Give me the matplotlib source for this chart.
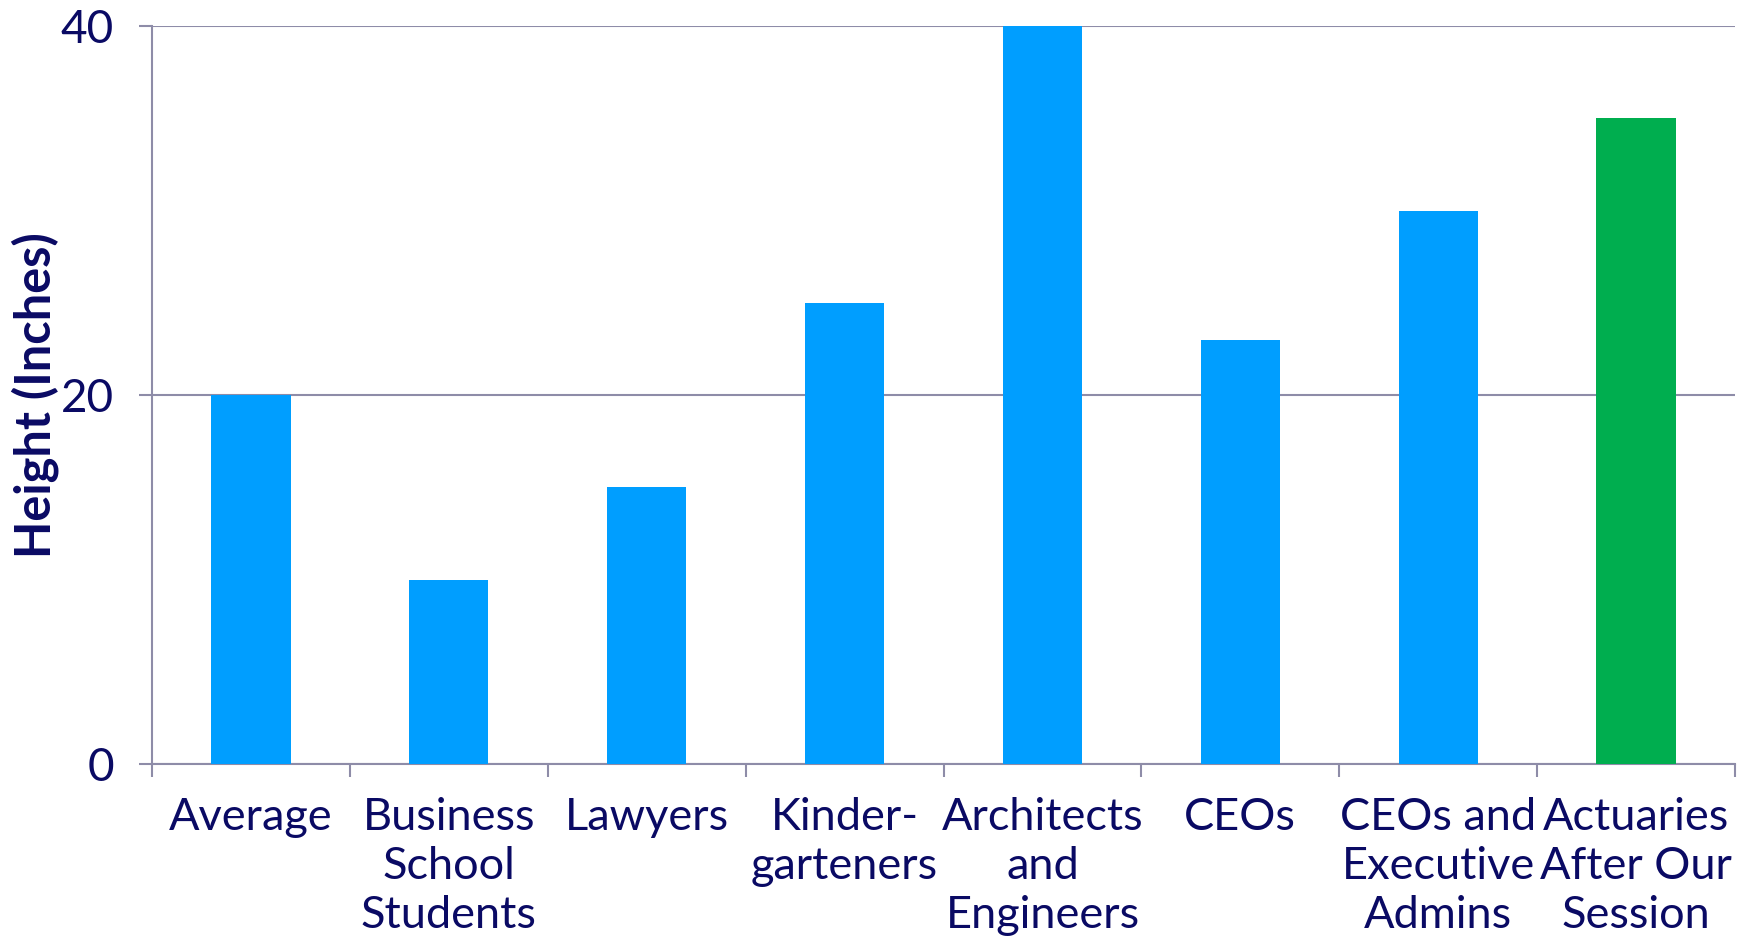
import numpy as np
import matplotlib
matplotlib.use('Agg')
import matplotlib.pyplot as plt

categories = ['Average', 'Business\nSchool\nStudents', 'Lawyers', 'Kinder-\ngarteners',
              'Architects\nand\nEngineers', 'CEOs', 'CEOs and\nExecutive\nAdmins',
              'Actuaries\nAfter Our\nSession']
heights = [20, 10, 15, 25, 40, 23, 30, 35]
bar_colors = ['#009EFF'] * 7 + ['#00AE4F']
yticks = [0, 20, 40]

navy = '#0A0A64'
grey = '#8E8CA8'

plt.rcParams['font.family'] = ['Lato', 'DejaVu Sans']

fig = plt.figure(figsize=(17.48, 9.41), dpi=100)
ax = fig.add_axes([152 / 1748, 1 - 764 / 941, (1735 - 152) / 1748, (764 - 26) / 941])

x = np.arange(len(categories))
ax.bar(x, heights, width=0.4, color=bar_colors, zorder=3)

ax.set_xlim(-0.5, len(categories) - 0.5)
ax.set_ylim(0, 40)

# labels centred under bars, ticks on the category boundaries
ax.set_xticks(x)
ax.set_xticklabels(categories, fontsize=32.5, color=navy, linespacing=1.23)
ax.tick_params(axis='x', which='major', length=0, pad=24)
ax.set_xticks(np.arange(len(categories) + 1) - 0.5, minor=True)
ax.tick_params(axis='x', which='minor', length=9.5, width=1.5, color=grey)

ax.set_yticks(yticks)
ax.set_yticklabels([str(v) for v in yticks], fontsize=33, color=navy)
ax.tick_params(axis='y', length=9.5, width=1.5, color=grey, pad=18)

ax.grid(axis='y', color=grey, lw=1.5, zorder=0)
for s in ['top', 'right']:
    ax.spines[s].set_visible(False)
for s in ['left', 'bottom']:
    ax.spines[s].set_color(grey)
    ax.spines[s].set_linewidth(1.5)

ax.set_ylabel('Height (Inches)', fontsize=35, fontweight='bold', color=navy)
ax.yaxis.set_label_coords(-0.059, 0.5)

fig.savefig('out.png', dpi=100)
